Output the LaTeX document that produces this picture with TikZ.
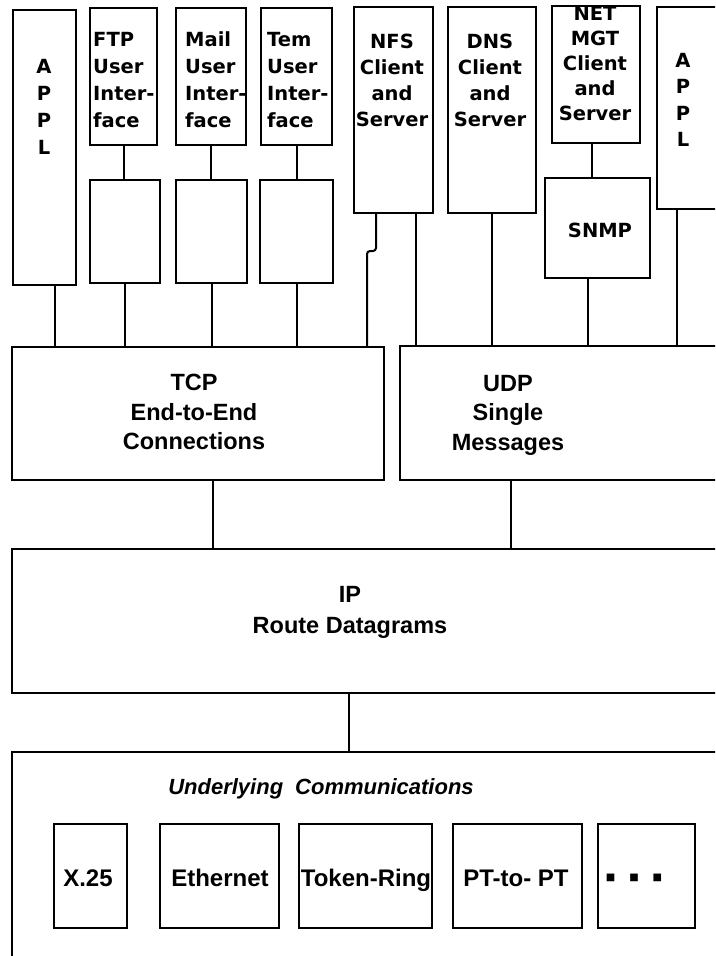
\documentclass[tikz,border=0pt]{standalone}
\usepackage{fontspec}
\newfontfamily\dvb{DejaVu Sans}
\newfontfamily\lib{Liberation Sans}
\begin{document}
\begin{tikzpicture}[x=1pt,y=-1pt,
  box/.style={draw, line width=2.3pt, anchor=north west, inner sep=0pt, outer sep=0pt},
  conn/.style={line width=2pt},
  toptxt/.style={inner sep=0pt, font=\dvb\bfseries\fontsize{19.5}{27}\selectfont, align=left, anchor=west},
  ctrtxt/.style={inner sep=0pt, font=\dvb\bfseries\fontsize{19.5}{26}\selectfont, align=center},
  midtxt/.style={inner sep=0pt, font=\lib\bfseries\fontsize{23.5}{29.5}\selectfont, align=center},
  lowtxt/.style={inner sep=0pt, anchor=base, font=\lib\bfseries\fontsize{24}{29}\selectfont}]
\useasboundingbox (0,0) rectangle (715,956);
\clip (0,0) rectangle (715,956);
\fill[white] (0,0) rectangle (715,956);
% boxes
\node[box, minimum width=63pt, minimum height=275pt] (applL) at (13,10) {};
\node[box, minimum width=67pt, minimum height=137pt] (ftp) at (90,8) {};
\node[box, minimum width=70pt, minimum height=137pt] (mail) at (176,8) {};
\node[box, minimum width=71pt, minimum height=137pt] (tem) at (261,8) {};
\node[box, minimum width=70pt, minimum height=103pt] (ftpl) at (90,180) {};
\node[box, minimum width=71pt, minimum height=103pt] (maill) at (176,180) {};
\node[box, minimum width=73pt, minimum height=103pt] (teml) at (260,180) {};
\node[box, minimum width=79pt, minimum height=206pt] (nfs) at (354,7) {};
\node[box, minimum width=88pt, minimum height=206pt] (dns) at (448,7) {};
\node[box, minimum width=88pt, minimum height=137pt] (net) at (552,6) {};
\node[box, minimum width=105pt, minimum height=100pt] (snmp) at (545,178) {};
\node[box, minimum width=80pt, minimum height=202pt] (applR) at (657,7) {};
\node[box, minimum width=372pt, minimum height=133pt] (tcp) at (12,347) {};
\node[box, minimum width=330pt, minimum height=134pt] (udp) at (400,346) {};
\node[box, minimum width=720pt, minimum height=144pt] (ip) at (12,549) {};
\node[box, minimum width=720pt, minimum height=260pt] (under) at (12,752) {};
\node[box, minimum width=73pt, minimum height=104pt] (x25) at (54,824) {};
\node[box, minimum width=119pt, minimum height=104pt] (eth) at (160,824) {};
\node[box, minimum width=133pt, minimum height=104pt] (tok) at (299,824) {};
\node[box, minimum width=129pt, minimum height=104pt] (ptp) at (453,824) {};
\node[box, minimum width=97pt, minimum height=104pt] (more) at (598,824) {};
% texts
\node[ctrtxt, align=center, font=\dvb\bfseries\fontsize{19.5}{27}\selectfont] (tapplL) at (44,107) {A\\P\\P\\L};
\node[toptxt] (tftp) at (93,80) {FTP\\User\\Inter-\\face};
\node[toptxt] (tmail) at (185,80) {Mail\\User\\Inter-\\face};
\node[toptxt] (ttem) at (267,80) {Tem\\User\\Inter-\\face};
\node[ctrtxt] (tnfs) at (392,80) {NFS\\Client\\and\\Server};
\node[ctrtxt] (tdns) at (490,80) {DNS\\Client\\and\\Server};
\node[ctrtxt, font=\dvb\bfseries\fontsize{19.5}{25}\selectfont] (tnet) at (595,64) {NET\\MGT\\Client\\and\\Server};
\node[ctrtxt, font=\dvb\bfseries\fontsize{19.5}{26.5}\selectfont] (tapplR) at (683,100) {A\\P\\P\\L};
\node[ctrtxt] (tsnmp) at (600,230) {SNMP};
\node[midtxt] (ttcp) at (194,412) {TCP\\End-to-End\\Connections};
\node[midtxt] (tudp) at (508,415) {UDP\\Single\\Messages};
\node[midtxt, font=\lib\bfseries\fontsize{23.5}{31}\selectfont] (tip) at (350,612) {IP\\Route Datagrams};
\node[inner sep=0pt, font=\lib\bfseries\itshape\fontsize{22}{26}\selectfont] (tunder) at (321,789) {Underlying\hspace{12pt}Communications};
\node[lowtxt] (tx25) at (88,886) {X.25};
\node[lowtxt] (teth) at (220,886) {Ethernet};
\node[lowtxt] (ttok) at (366,886) {Token-Ring};
\node[lowtxt] (tptp) at (516,886) {PT-to- PT};
\node[inner sep=0pt, font=\dvb\fontsize{10}{10}\selectfont] (tmore) at (634,878) {■\hspace{14pt}■\hspace{14pt}■};
% connector anchors
\coordinate (cA) at ([xshift=42pt]applL.south west);
\coordinate (n1) at ([xshift=22pt]nfs.south west);
\coordinate (n1b) at ([xshift=13pt]nfs.south west);
\coordinate (n2) at ([xshift=62pt]nfs.south west);
\coordinate (m1) at ([xshift=40pt]net.south west);
\coordinate (s1) at ([xshift=43pt]snmp.south west);
\coordinate (r1) at ([xshift=20pt]applR.south west);
\coordinate (t1) at ([xshift=201pt]tcp.south west);
\coordinate (u1) at ([xshift=111pt]udp.south west);
\coordinate (i1) at ([xshift=337pt]ip.south west);
% connectors
\draw[conn] (cA) -- (cA |- tcp.north);
\draw[conn] (ftp.south) -- (ftp.south |- ftpl.north);
\draw[conn] (mail.south) -- (mail.south |- maill.north);
\draw[conn] (tem.south) -- (tem.south |- teml.north);
\draw[conn] (ftpl.south) -- (ftpl.south |- tcp.north);
\draw[conn] (maill.south) -- (maill.south |- tcp.north);
\draw[conn] (teml.south) -- (teml.south |- tcp.north);
\draw[conn, rounded corners=3pt] (n1) -- ++(0,38) -| (n1b |- tcp.north);
\draw[conn] (n2) -- (n2 |- udp.north);
\draw[conn] (dns.south) -- (dns.south |- udp.north);
\draw[conn] (m1) -- (m1 |- snmp.north);
\draw[conn] (s1) -- (s1 |- udp.north);
\draw[conn] (r1) -- (r1 |- udp.north);
\draw[conn] (t1) -- (t1 |- ip.north);
\draw[conn] (u1) -- (u1 |- ip.north);
\draw[conn] (i1) -- (i1 |- under.north);
\end{tikzpicture}
\end{document}
